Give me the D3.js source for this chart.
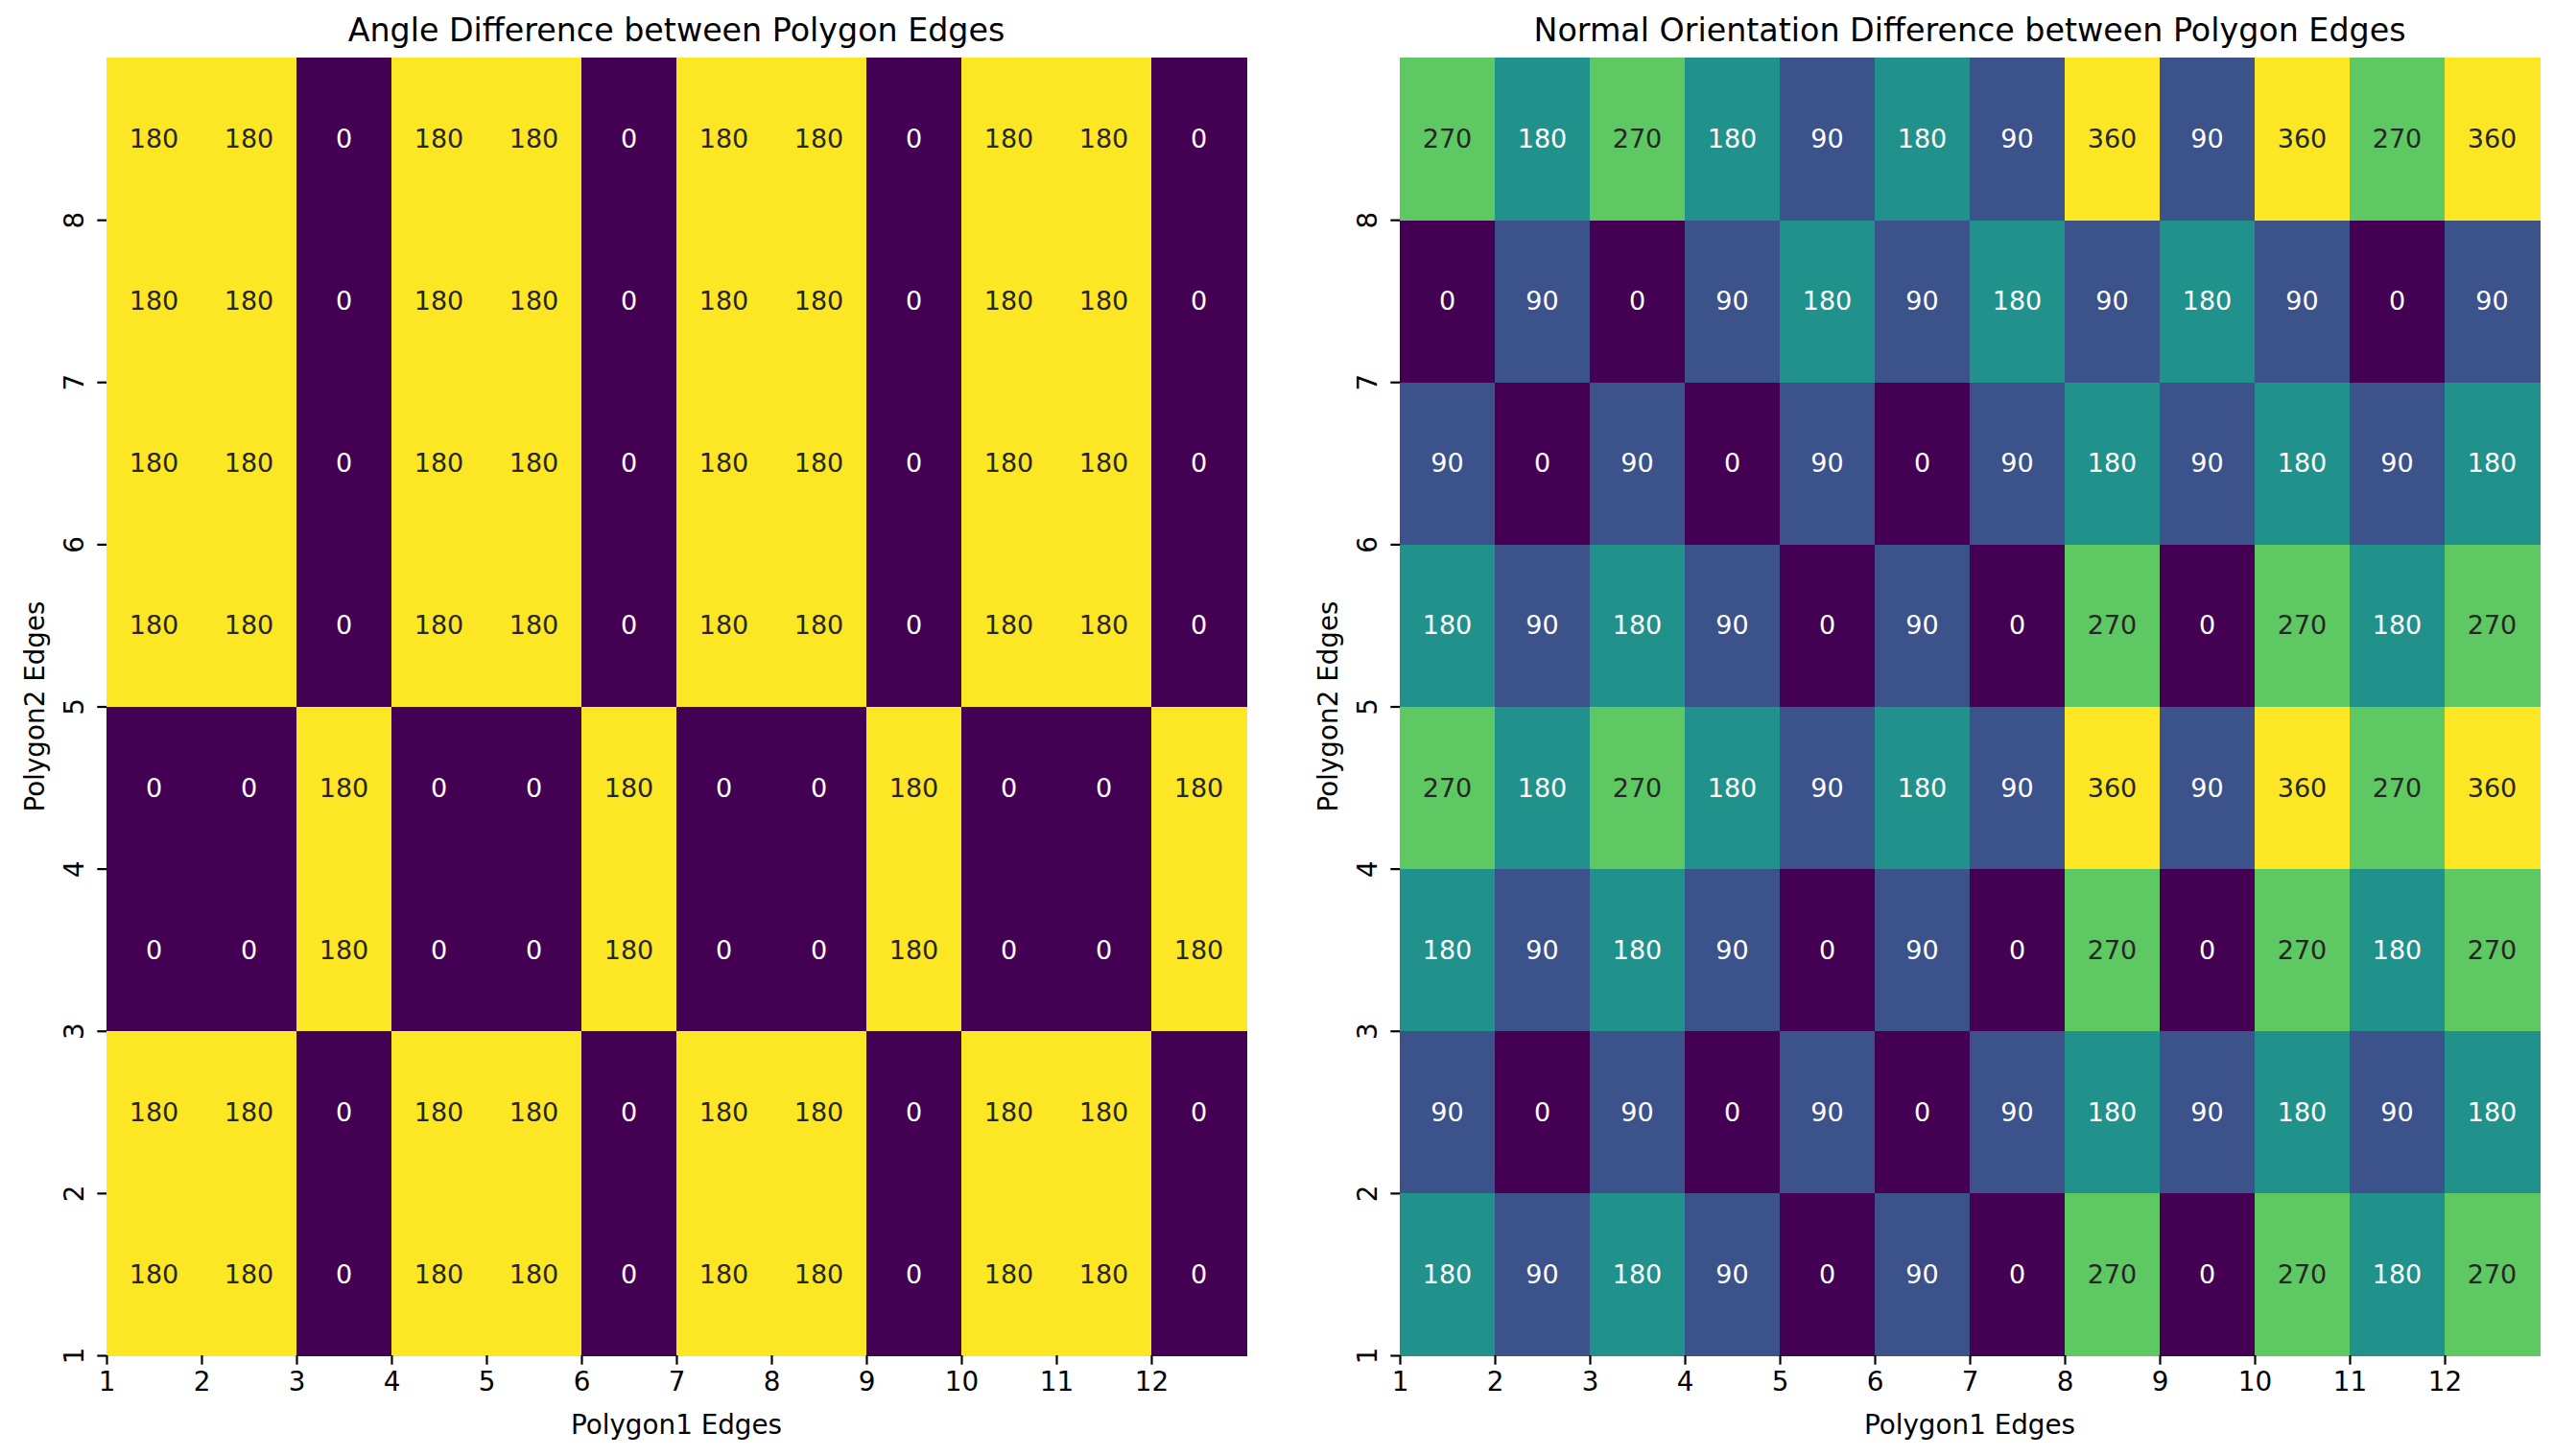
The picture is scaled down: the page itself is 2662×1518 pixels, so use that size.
<!DOCTYPE html>
<html>
<head>
<meta charset="utf-8">
<script src="https://cdn.jsdelivr.net/npm/d3@7"></script>
<style>
  body { margin: 0; background: #fff; }
  svg text { font-family: "DejaVu Sans", sans-serif; }
</style>
</head>
<body>
<svg id="chart" width="2662" height="1518"></svg>
<script>
// edge labels
const poly1Edges = d3.range(1, 13);   // columns
const poly2Edges = d3.range(1, 9);    // rows, bottom to top

// angle difference, rows listed bottom (edge 1) to top (edge 8)
const angleRowA = [180, 180, 0, 180, 180, 0, 180, 180, 0, 180, 180, 0];
const angleRowB = [0, 0, 180, 0, 0, 180, 0, 0, 180, 0, 0, 180];
const angleDiff = [angleRowA, angleRowA, angleRowB, angleRowB, angleRowA, angleRowA, angleRowA, angleRowA];

// normal orientation difference, rows bottom to top
const normalDiff = [
  [180, 90, 180, 90, 0, 90, 0, 270, 0, 270, 180, 270],
  [90, 0, 90, 0, 90, 0, 90, 180, 90, 180, 90, 180],
  [180, 90, 180, 90, 0, 90, 0, 270, 0, 270, 180, 270],
  [270, 180, 270, 180, 90, 180, 90, 360, 90, 360, 270, 360],
  [180, 90, 180, 90, 0, 90, 0, 270, 0, 270, 180, 270],
  [90, 0, 90, 0, 90, 0, 90, 180, 90, 180, 90, 180],
  [0, 90, 0, 90, 180, 90, 180, 90, 180, 90, 0, 90],
  [270, 180, 270, 180, 90, 180, 90, 360, 90, 360, 270, 360]
];

const titles = ["Angle Difference between Polygon Edges", "Normal Orientation Difference between Polygon Edges"];
const xLabel = "Polygon1 Edges";
const yLabel = "Polygon2 Edges";

const svg = d3.select("#chart");
const plotTop = 60, plotBottom = 1413, panelW = 1188;
const panels = [
  { left: 111, data: angleDiff, title: titles[0] },
  { left: 1459, data: normalDiff, title: titles[1] }
];

// seaborn picks dark or white annotation text from cell luminance
function luminance(c) {
  const rgb = d3.rgb(c);
  const f = v => { v /= 255; return v <= 0.03928 ? v / 12.92 : Math.pow((v + 0.055) / 1.055, 2.4); };
  return 0.2126 * f(rgb.r) + 0.7152 * f(rgb.g) + 0.0722 * f(rgb.b);
}

panels.forEach(p => {
  const g = svg.append("g");
  const x = d3.scaleLinear().domain([0, poly1Edges.length]).range([p.left, p.left + panelW]);
  const y = d3.scaleLinear().domain([0, poly2Edges.length]).range([plotBottom, plotTop]);
  const flat = p.data.flat();
  const color = d3.scaleSequential(d3.interpolateViridis).domain([d3.min(flat), d3.max(flat)]);

  const cells = [];
  p.data.forEach((row, r) => row.forEach((v, c) => cells.push({ r, c, v })));

  g.append("g").attr("shape-rendering", "crispEdges")
    .selectAll("rect.cell").data(cells).enter().append("rect")
    .attr("class", "cell")
    .attr("x", d => x(d.c))
    .attr("y", d => y(d.r + 1))
    .attr("width", d => x(d.c + 1) - x(d.c) + 0.5)
    .attr("height", d => y(d.r) - y(d.r + 1) + 0.5)
    .attr("fill", d => color(d.v));

  g.selectAll("text.annot").data(cells).enter().append("text")
    .attr("class", "annot")
    .attr("x", d => x(d.c + 0.5))
    .attr("y", d => y(d.r + 0.5))
    .attr("text-anchor", "middle")
    .attr("dominant-baseline", "central")
    .attr("font-size", 27)
    .attr("fill", d => luminance(color(d.v)) > 0.408 ? "#262626" : "#ffffff")
    .text(d => d.v);

  // axes: ticks sit on the cell edges, as in the source
  const xAxis = d3.axisBottom(x).tickValues(d3.range(poly1Edges.length))
    .tickFormat(i => poly1Edges[i]).tickSize(9.7).tickPadding(8);
  const xg = g.append("g").attr("transform", `translate(0,${plotBottom})`).call(xAxis);
  xg.select(".domain").remove();
  xg.selectAll(".tick line").attr("stroke", "#000").attr("stroke-width", 2.2);
  xg.selectAll(".tick text").attr("font-size", 27.8).attr("fill", "#000")
    .attr("font-family", "DejaVu Sans, sans-serif");

  const yAxis = d3.axisLeft(y).tickValues(d3.range(poly2Edges.length))
    .tickFormat(i => poly2Edges[i]).tickSize(9.7);
  const yg = g.append("g").attr("transform", `translate(${p.left},0)`).call(yAxis);
  yg.select(".domain").remove();
  yg.selectAll(".tick line").attr("stroke", "#000").attr("stroke-width", 2.2);
  yg.selectAll(".tick text")
    .attr("x", null).attr("dy", null)
    .attr("transform", "translate(-24,0) rotate(-90)")
    .attr("text-anchor", "middle")
    .attr("font-size", 27.8).attr("fill", "#000")
    .attr("font-family", "DejaVu Sans, sans-serif");

  g.append("text")
    .attr("x", x(poly1Edges.length / 2)).attr("y", 1495)
    .attr("text-anchor", "middle").attr("font-size", 27.8).attr("fill", "#000")
    .text(xLabel);

  g.append("text")
    .attr("transform", `translate(${p.left - 65},${(plotTop + plotBottom) / 2}) rotate(-90)`)
    .attr("text-anchor", "middle").attr("font-size", 27.8).attr("fill", "#000")
    .text(yLabel);

  g.append("text")
    .attr("x", x(poly1Edges.length / 2)).attr("y", 43)
    .attr("text-anchor", "middle").attr("font-size", 33.3).attr("fill", "#000")
    .text(p.title);
});
</script>
</body>
</html>
